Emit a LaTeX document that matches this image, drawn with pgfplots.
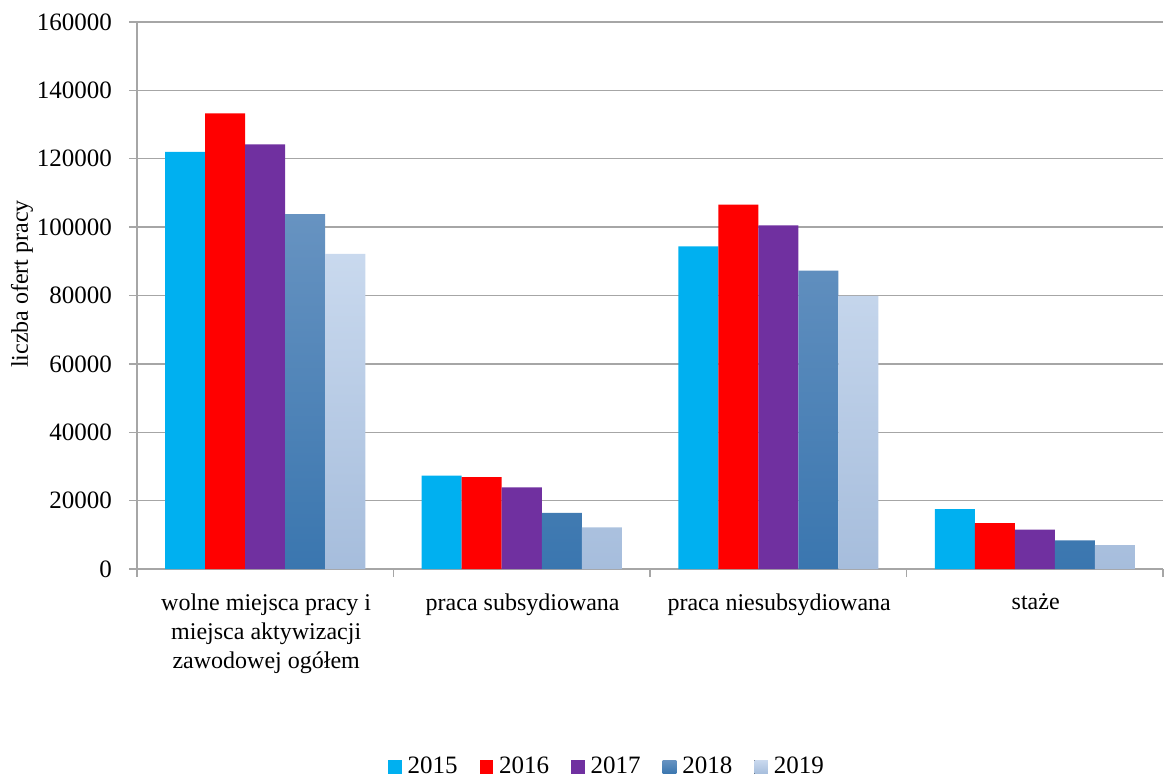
\documentclass[border=0pt]{standalone}
\usepackage{fontspec}
\setmainfont{Liberation Serif}
\usepackage{pgfplots}
\pgfplotsset{compat=1.18}
\definecolor{c15}{HTML}{00B0F0}
\definecolor{c16}{HTML}{FF0000}
\definecolor{c17}{HTML}{7030A0}
\definecolor{c18t}{HTML}{6793C1}
\definecolor{c18b}{HTML}{3A76AF}
\definecolor{c19t}{HTML}{C9D9EE}
\definecolor{c19b}{HTML}{A6BDDC}
\definecolor{gridc}{HTML}{A6A6A6}
\pgfplotsset{mylegend/.style={legend image code/.code={\fill[##1] (0pt,-3.4pt) rectangle (6.8pt,3.4pt);}}}
\begin{document}
\begin{tikzpicture}
\useasboundingbox (-68.5pt,-106pt) rectangle (514.5pt,284.5pt);
\begin{axis}[
  at={(0,0)}, anchor=south west,
  scale only axis, width=513pt, height=273.5pt,
  xmin=0.5, xmax=4.5, ymin=0, ymax=160000,
  ytick={0,20000,40000,60000,80000,100000,120000,140000,160000},
  yticklabels={0,20000,40000,60000,80000,100000,120000,140000,160000},
  scaled y ticks=false,
  ybar=0pt, bar width=20pt,
  axis lines=left, axis line style={-, gridc, line width=0.7pt},
  ymajorgrids, grid style={gridc, line width=0.7pt},
  tick align=outside, major tick length=4pt,
  tick style={gridc, line width=0.7pt},
  xtick={0.5,1.5,2.5,3.5,4.5},
  xticklabels={{wolne miejsca pracy i\\miejsca aktywizacji\\zawodowej ogółem},{praca subsydiowana},{praca niesubsydiowana},{staże},{}},
  xticklabel style={xshift=64.6pt, anchor=north, yshift=-5pt, align=center, font=\fontsize{12}{14.5}\selectfont},
  yticklabel style={font=\fontsize{12.5}{15}\selectfont, xshift=-5pt},
  every axis y label/.style={at={(axis description cs:-0.112,0.521)}, rotate=90, anchor=center, font=\fontsize{12}{14}\selectfont},
  ylabel={liczba ofert pracy},
  legend style={at={(axis description cs:0.459,-0.3620)}, anchor=center, draw=none, fill=none,
    legend columns=5, font=\fontsize{12.5}{15}\selectfont,
    /tikz/every even column/.append style={column sep=9pt},
    /tikz/every odd column/.append style={column sep=1pt}},
]
\addplot[fill=c15, draw=none, mylegend] coordinates {(1,122000) (2,27300) (3,94400) (4,17500)};
\addplot[fill=c16, draw=none, mylegend] coordinates {(1,133300) (2,26900) (3,106600) (4,13400)};
\addplot[fill=c17, draw=none, mylegend] coordinates {(1,124200) (2,23900) (3,100500) (4,11500)};
\addplot[top color=c18t, bottom color=c18b, draw=none, mylegend] coordinates {(1,103800) (2,16400) (3,87300) (4,8400)};
\addplot[top color=c19t, bottom color=c19b, draw=none, mylegend] coordinates {(1,92200) (2,12200) (3,79900) (4,7000)};
\legend{2015,2016,2017,2018,2019}
\end{axis}
\end{tikzpicture}
\end{document}
